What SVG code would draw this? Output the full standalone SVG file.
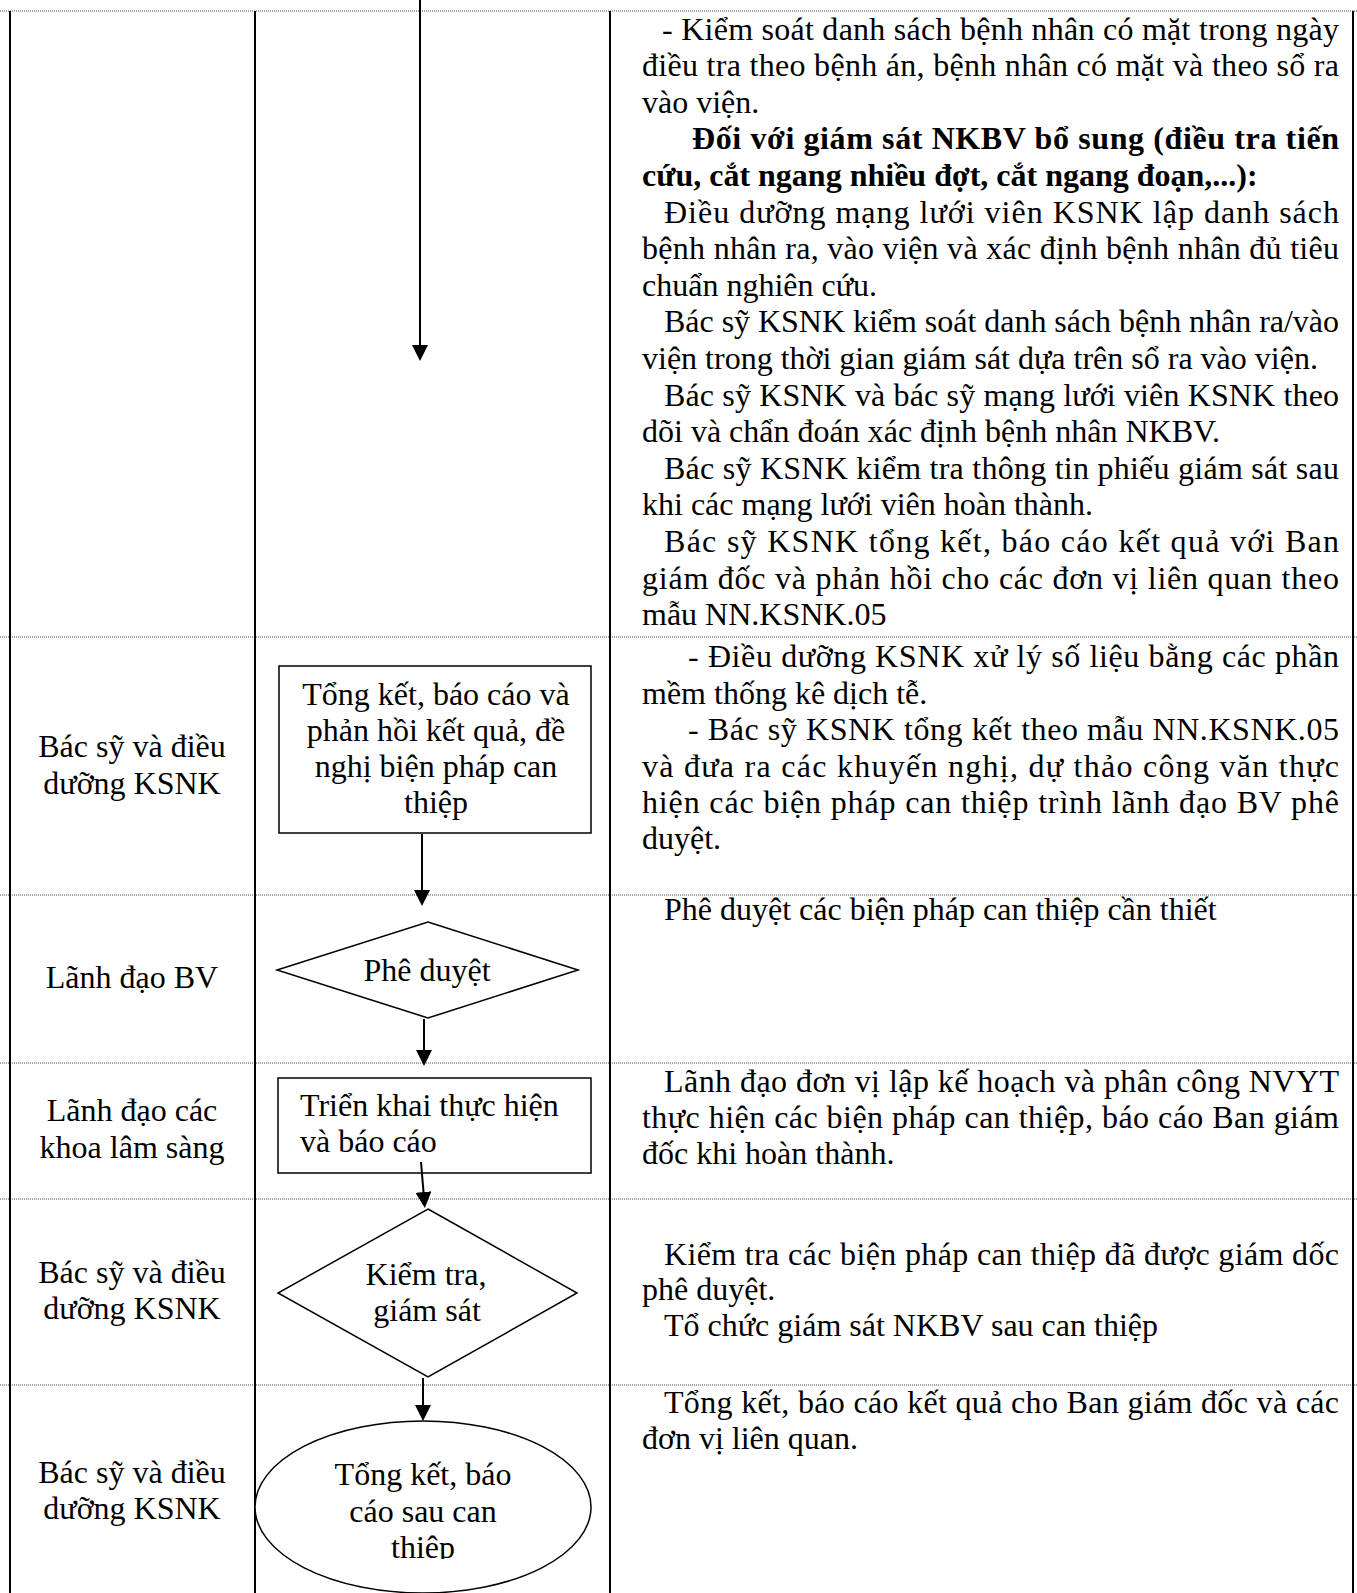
<svg xmlns="http://www.w3.org/2000/svg" width="1357" height="1593" viewBox="0 0 1357 1593">
<style>
.t{font-family:"Liberation Serif","Times New Roman",serif;font-size:32px;fill:#000}
.b{font-weight:bold}
.c{text-anchor:middle}
.grid{stroke:#000;stroke-width:2}
.dot{stroke:#444;stroke-width:1;stroke-dasharray:1 1}
.shape{fill:#fff;stroke:#000;stroke-width:1.5}
.conn{stroke:#000;stroke-width:2;fill:none;marker-end:url(#ah)}
</style>
<defs>
<marker id="ah" markerUnits="userSpaceOnUse" markerWidth="16" markerHeight="16" refX="0" refY="8" orient="auto"><path d="M0,0 L16,8 L0,16 z" fill="#000"/></marker>
<clipPath id="ellclip"><rect x="250" y="1400" width="350" height="159"/></clipPath>
</defs>
<rect width="1357" height="1593" fill="#fff"/>
<g id="grid">
<line class="dot" x1="0" y1="11" x2="1357" y2="11"/>
<line class="dot" x1="0" y1="637" x2="1357" y2="637"/>
<line class="dot" x1="0" y1="895" x2="1357" y2="895"/>
<line class="dot" x1="0" y1="1063" x2="1357" y2="1063"/>
<line class="dot" x1="0" y1="1199" x2="1357" y2="1199"/>
<line class="dot" x1="0" y1="1385" x2="1357" y2="1385"/>
<line class="grid" x1="10" y1="11" x2="10" y2="1593"/>
<line class="grid" x1="255" y1="11" x2="255" y2="1593"/>
<line class="grid" x1="610" y1="11" x2="610" y2="1593"/>
<line class="grid" x1="1353" y1="11" x2="1353" y2="1593"/>
</g>
<g id="lane-labels" class="t c">
<text x="132" y="757">Bác sỹ và điều</text>
<text x="132" y="794">dưỡng KSNK</text>
<text x="132" y="988">Lãnh đạo BV</text>
<text x="132" y="1121">Lãnh đạo các</text>
<text x="132" y="1158">khoa lâm sàng</text>
<text x="132" y="1283">Bác sỹ và điều</text>
<text x="132" y="1319">dưỡng KSNK</text>
<text x="132" y="1483">Bác sỹ và điều</text>
<text x="132" y="1519">dưỡng KSNK</text>
</g>
<g id="node-tongket">
<rect class="shape" x="279" y="666" width="312" height="167"/>
<text class="t c" x="436" y="705">Tổng kết, báo cáo và</text>
<text class="t c" x="436" y="741">phản hồi kết quả, đề</text>
<text class="t c" x="436" y="777">nghị biện pháp can</text>
<text class="t c" x="436" y="813">thiệp</text>
</g>
<g id="node-pheduyet">
<polygon class="shape" points="428,922 578,970 428,1018 277,970"/>
<text class="t c" x="427" y="981">Phê duyệt</text>
</g>
<g id="node-trienkhai">
<rect class="shape" x="278" y="1078" width="313" height="95"/>
<text class="t" x="300" y="1116">Triển khai thực hiện</text>
<text class="t" x="300" y="1152">và báo cáo</text>
</g>
<g id="node-kiemtra">
<polygon class="shape" points="428,1209 577,1293 428,1377 278,1293"/>
<text class="t c" x="426" y="1285">Kiểm tra,</text>
<text class="t c" x="427" y="1321">giám sát</text>
</g>
<g id="node-tongketsau">
<ellipse class="shape" cx="423" cy="1507" rx="168" ry="86"/>
<g clip-path="url(#ellclip)">
<text class="t c" x="423" y="1485">Tổng kết, báo</text>
<text class="t c" x="423" y="1522">cáo sau can</text>
<text class="t c" x="423" y="1558">thiệp</text>
</g>
</g>
<g id="connectors">
<path class="conn" d="M420,0 L420,345"/>
<path class="conn" d="M422,834 L422,890"/>
<path class="conn" d="M424,1019 L424,1050"/>
<path class="conn" d="M421,1162 L423.5,1192"/>
<path class="conn" d="M423,1378 L423,1405"/>
</g>
<g id="descriptions" class="t">
<text x="662" y="39.5" textLength="677" lengthAdjust="spacing">- Kiểm soát danh sách bệnh nhân có mặt trong ngày</text>
<text x="642" y="76" textLength="697" lengthAdjust="spacing">điều tra theo bệnh án, bệnh nhân có mặt và theo sổ ra</text>
<text x="642" y="112.7">vào viện.</text>
<text class="b" x="692" y="149.3" textLength="647" lengthAdjust="spacing">Đối với giám sát NKBV bổ sung (điều tra tiến</text>
<text class="b" x="642" y="186">cứu, cắt ngang nhiều đợt, cắt ngang đoạn,...):</text>
<text x="664" y="222.5" textLength="675" lengthAdjust="spacing">Điều dưỡng mạng lưới viên KSNK lập danh sách</text>
<text x="642" y="259" textLength="697" lengthAdjust="spacing">bệnh nhân ra, vào viện và xác định bệnh nhân đủ tiêu</text>
<text x="642" y="295.7">chuẩn nghiên cứu.</text>
<text x="664" y="332.3" textLength="675" lengthAdjust="spacing">Bác sỹ KSNK kiểm soát danh sách bệnh nhân ra/vào</text>
<text x="642" y="369">viện trong thời gian giám sát dựa trên sổ ra vào viện.</text>
<text x="664" y="405.5" textLength="675" lengthAdjust="spacing">Bác sỹ KSNK và bác sỹ mạng lưới viên KSNK theo</text>
<text x="642" y="442">dõi và chẩn đoán xác định bệnh nhân NKBV.</text>
<text x="664" y="478.7" textLength="675" lengthAdjust="spacing">Bác sỹ KSNK kiểm tra thông tin phiếu giám sát sau</text>
<text x="642" y="515.3">khi các mạng lưới viên hoàn thành.</text>
<text x="664" y="552" textLength="675" lengthAdjust="spacing">Bác sỹ KSNK tổng kết, báo cáo kết quả với Ban</text>
<text x="642" y="588.5" textLength="697" lengthAdjust="spacing">giám đốc và phản hồi cho các đơn vị liên quan theo</text>
<text x="642" y="625">mẫu NN.KSNK.05</text>

<text x="688" y="667" textLength="651" lengthAdjust="spacing">- Điều dưỡng KSNK xử lý số liệu bằng các phần</text>
<text x="642" y="703.5">mềm thống kê dịch tễ.</text>
<text x="688" y="740" textLength="651" lengthAdjust="spacing">- Bác sỹ KSNK tổng kết theo mẫu NN.KSNK.05</text>
<text x="642" y="776.5" textLength="697" lengthAdjust="spacing">và đưa ra các khuyến nghị, dự thảo công văn thực</text>
<text x="642" y="813" textLength="697" lengthAdjust="spacing">hiện các biện pháp can thiệp trình lãnh đạo BV phê</text>
<text x="642" y="849">duyệt.</text>

<text x="664" y="920">Phê duyệt các biện pháp can thiệp cần thiết</text>

<text x="664" y="1092" textLength="675" lengthAdjust="spacing">Lãnh đạo đơn vị lập kế hoạch và phân công NVYT</text>
<text x="642" y="1128" textLength="697" lengthAdjust="spacing">thực hiện các biện pháp can thiệp, báo cáo Ban giám</text>
<text x="642" y="1164">đốc khi hoàn thành.</text>

<text x="664" y="1265" textLength="675" lengthAdjust="spacing">Kiểm tra các biện pháp can thiệp đã được giám dốc</text>
<text x="642" y="1300">phê duyệt.</text>
<text x="664" y="1336">Tổ chức giám sát NKBV sau can thiệp</text>

<text x="664" y="1413" textLength="675" lengthAdjust="spacing">Tổng kết, báo cáo kết quả cho Ban giám đốc và các</text>
<text x="642" y="1449">đơn vị liên quan.</text>
</g>
</svg>
